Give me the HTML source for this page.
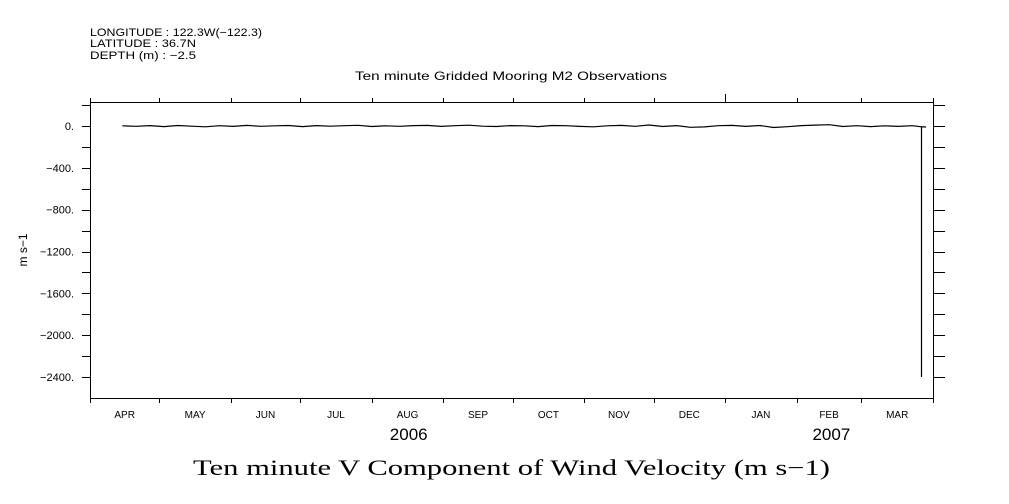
<!DOCTYPE html>
<html><head><meta charset="utf-8"><style>
body{margin:0;background:#fff;width:1009px;height:504px;overflow:hidden}
svg{display:block}
text{font-family:"Liberation Sans",sans-serif;fill:#000}
</style></head><body>
<svg id="c" width="1009" height="504">
<text x="90" y="36" font-size="11" textLength="172" lengthAdjust="spacingAndGlyphs">LONGITUDE : 122.3W(−122.3)</text>
<text x="90" y="47" font-size="11" textLength="106" lengthAdjust="spacingAndGlyphs">LATITUDE : 36.7N</text>
<text x="90" y="59" font-size="11" textLength="106" lengthAdjust="spacingAndGlyphs">DEPTH (m) : −2.5</text>
<text x="355" y="80" font-size="12" textLength="312" lengthAdjust="spacingAndGlyphs">Ten minute Gridded Mooring M2 Observations</text>
<text x="193" y="475" font-size="22" textLength="637" lengthAdjust="spacingAndGlyphs" style="font-family:'Liberation Serif',serif">Ten minute V Component of Wind Velocity (m s−1)</text>
<text transform="translate(27,250) rotate(-90)" font-size="12" text-anchor="middle">m s−1</text>
<g id="axes"></g>
<g id="marks"></g>
</svg>
<script>
const months=["APR","MAY","JUN","JUL","AUG","SEP","OCT","NOV","DEC","JAN","FEB","MAR"];
const yTicks=[0,-400,-800,-1200,-1600,-2000,-2400];
const years=["2006","2007"];
const dayOffsets=[14,20,26,32,38,44,50,56,62,68,74,80,86,92,98,104,110,116,122,128,134,140,146,152,158,164,170,176,182,188,194,200,206,212,218,224,230,236,242,248,254,260,266,272,278,284,290,296,302,308,314,320,326,332,338,344,350,356,360,360,360,362];
const vValues=[2,-3,4,-6,5,-2,-8,3,-4,6,-3,2,5,-6,4,-2,3,7,-5,2,-3,4,6,-4,3,8,-2,-5,4,2,-6,5,3,-4,-8,2,6,-3,10,-5,4,-12,-9,3,6,-4,5,-14,-7,4,9,12,-5,3,-6,2,-4,3,-8,-2400,-8,-10];
const NS="http://www.w3.org/2000/svg";
const L=90,R=933,T=102,B=398;
const x=d=>L+(R-L)*d/365;
const y=v=>126+(v-0)*(377-126)/(-2400);
const axes=document.getElementById('axes'),marks=document.getElementById('marks');
function mk(tag,attrs,parent){const e=document.createElementNS(NS,tag);for(const k in attrs)e.setAttribute(k,attrs[k]);parent.appendChild(e);return e;}
const frame=mk('rect',{x:L+0.5,y:T+0.5,width:R-L,height:B-T,fill:'none',stroke:'#000','stroke-width':1},axes);


const mStart=[0,30,61,91,122,153,183,214,244,275,306,334,365];
for(let i=0;i<=12;i++){
  const xx=Math.round(x(mStart[i]))+0.5;
  const t1=mk('line',{x1:xx,x2:xx,y1:B,y2:B+5,stroke:'#000'},axes);
  
  
  const t2=mk('line',{x1:xx,x2:xx,y1:T,y2:i==9?T-8:T-4,stroke:'#000'},axes);
  
  
  if(i<12){
    const lb=mk('text',{x:x((mStart[i]+mStart[i+1])/2),y:418,'font-size':10,'text-anchor':'middle'},axes);
    lb.textContent=months[i];
    
    
  }
}
const yrX=[x(138),x(321)];
years.forEach((yr,i)=>{const t=mk('text',{x:yrX[i],y:440,'font-size':17,'text-anchor':'middle'},axes);t.textContent=yr;

});
for(let v=200;v>=-2600;v-=200){
  const yy=Math.round(y(v))+0.5;if(yy<T||yy>B)continue;
  const a=mk('line',{x1:L-8,x2:L,y1:yy,y2:yy,stroke:'#000'},axes);
  
  
  const b=mk('line',{x1:R,x2:R+12,y1:yy,y2:yy,stroke:'#000'},axes);
  
  
}
yTicks.forEach(v=>{const t=mk('text',{x:L-16,y:y(v)+4,'font-size':11,'text-anchor':'end'},axes);t.textContent=(v<0?'−'+(-v):v)+'.';

});
const pts=dayOffsets.map((d,i)=>x(d).toFixed(1)+','+y(vValues[i]).toFixed(1)).join(' ');
const line=mk('polyline',{points:pts,fill:'none',stroke:'#000','stroke-width':1.2},marks);


</script>
</body></html>
